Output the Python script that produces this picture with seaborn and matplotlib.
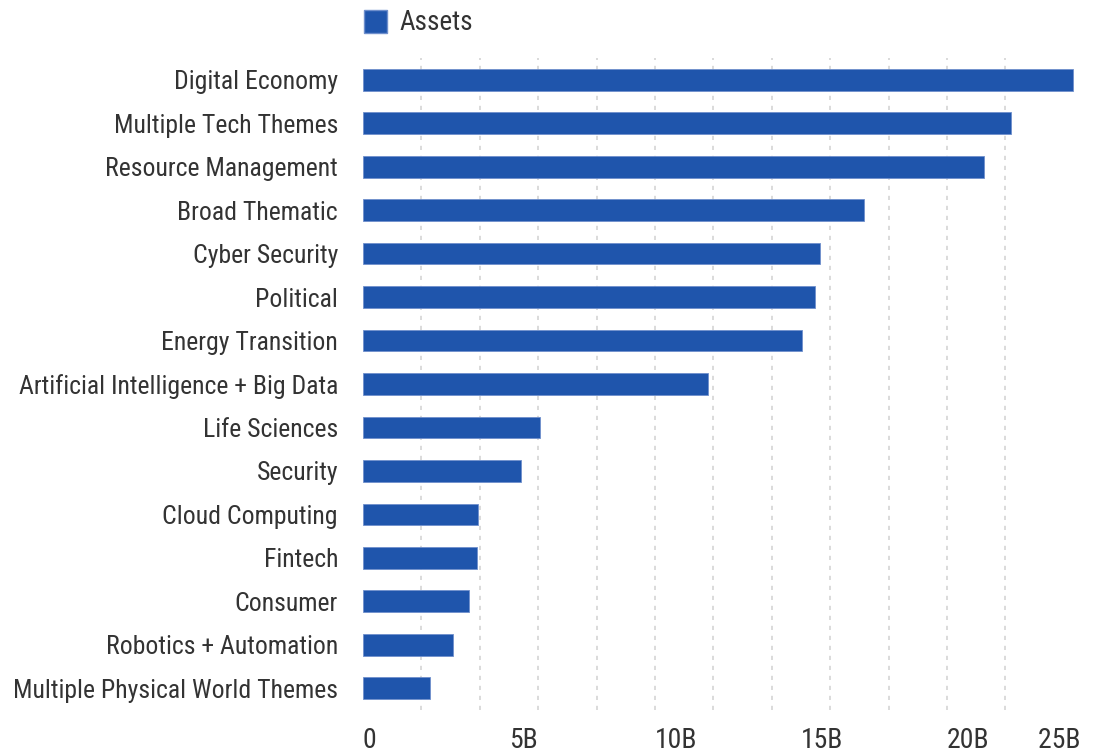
import matplotlib
matplotlib.use("Agg")
import matplotlib.pyplot as plt
from matplotlib.patches import Patch
from matplotlib import font_manager
import seaborn as sns
import pandas as pd

categories = [
    "Digital Economy",
    "Multiple Tech Themes",
    "Resource Management",
    "Broad Thematic",
    "Cyber Security",
    "Political",
    "Energy Transition",
    "Artificial Intelligence + Big Data",
    "Life Sciences",
    "Security",
    "Cloud Computing",
    "Fintech",
    "Consumer",
    "Robotics + Automation",
    "Multiple Physical World Themes",
]
assets_billion = [24.3, 22.2, 21.25, 17.15, 15.66, 15.49, 15.04, 11.8,
                  6.07, 5.4, 3.95, 3.89, 3.64, 3.07, 2.29]
xtick_values = [0, 5, 10, 15, 20, 25]
xtick_labels = ["0", "5B", "10B", "15B", "20B", "25B"]
grid_values = [2, 4, 6, 8, 10, 12, 14, 16, 18, 20, 22]

df = pd.DataFrame({"Category": categories, "Assets": assets_billion})

sns.set_theme(style="white")
names = {f.name for f in font_manager.fontManager.ttflist}
fam = [f for f in ["Liberation Sans Narrow", "Roboto Condensed", "Roboto", "DejaVu Sans"] if f in names]
plt.rcParams["font.family"] = fam

BAR = "#1F55AC"
TXT = "#333333"

fig = plt.figure(figsize=(10.96, 7.54), dpi=100)
ax = fig.add_axes([363 / 1096, 1 - 710 / 754, (1093 - 363) / 1096, (710 - 58) / 754])

sns.barplot(data=df, x="Assets", y="Category", orient="h", color=BAR,
            width=0.5, saturation=1, ax=ax, edgecolor="#6f8fcc", linewidth=0.6)

for g in grid_values:
    ax.axvline(g, color="#d4d4d4", linestyle=(0, (2.5, 3.5)), linewidth=1.2, zorder=0)

ax.set_xlim(0, 25)
ax.set_ylim(len(categories) - 0.5, -0.5)
ax.set_xticks(xtick_values)
ax.set_xticklabels([t + "  " if v == 25 else t for t, v in zip(xtick_labels, xtick_values)])
for lab, v in zip(ax.get_xticklabels(), xtick_values):
    lab.set_ha("right" if v == 25 else "left")
ax.tick_params(axis="x", length=0, pad=12, labelsize=20, labelcolor=TXT)
ax.tick_params(axis="y", length=0, pad=18, labelsize=18.5, labelcolor=TXT)
ax.set_xlabel("")
ax.set_ylabel("")
for s in ax.spines.values():
    s.set_visible(False)

fig.legend(handles=[Patch(facecolor=BAR, edgecolor="#6f8fcc", label="Assets")],
           loc="center left", bbox_to_anchor=(364 / 1096, 1 - 23 / 754),
           frameon=False, fontsize=19.5, labelcolor=TXT,
           handlelength=0.85, handleheight=0.95, handletextpad=0.45,
           borderaxespad=0, borderpad=0)

fig.savefig("out.png", dpi=100)
